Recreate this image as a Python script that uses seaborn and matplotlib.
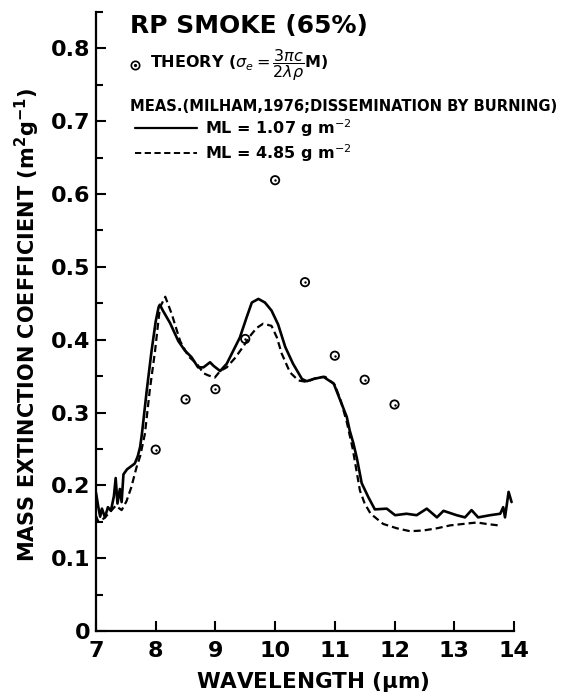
import matplotlib
matplotlib.use("Agg")
import matplotlib.pyplot as plt
import seaborn as sns
from matplotlib.lines import Line2D
from matplotlib.ticker import MultipleLocator

# Measured curve, ML = 1.07 g m^-2 (solid)
wl_thin = [7.00, 7.04, 7.07, 7.10, 7.15, 7.20, 7.25, 7.30, 7.33, 7.36, 7.40, 7.43,
           7.46, 7.52, 7.57, 7.65, 7.70, 7.74, 7.77, 7.85, 7.93, 8.00, 8.05, 8.07,
           8.12, 8.24, 8.38, 8.49, 8.60, 8.71, 8.80, 8.91, 8.97, 9.08, 9.19, 9.30,
           9.41, 9.52, 9.61, 9.72, 9.83, 9.94, 10.05, 10.17, 10.30, 10.45, 10.53,
           10.64, 10.81, 10.92, 10.98, 11.09, 11.20, 11.25, 11.31, 11.37, 11.45,
           11.56, 11.67, 11.87, 12.01, 12.20, 12.37, 12.54, 12.71, 12.82, 13.04,
           13.18, 13.29, 13.40, 13.60, 13.77, 13.82, 13.85, 13.91, 13.96]
mec_thin = [0.190, 0.170, 0.157, 0.168, 0.156, 0.170, 0.165, 0.185, 0.210, 0.175, 0.195, 0.177,
            0.215, 0.222, 0.225, 0.230, 0.240, 0.253, 0.271, 0.330, 0.384, 0.425, 0.445, 0.448,
            0.440, 0.423, 0.398, 0.385, 0.376, 0.362, 0.362, 0.369, 0.364, 0.357, 0.367, 0.385,
            0.403, 0.430, 0.451, 0.456, 0.451, 0.440, 0.421, 0.390, 0.367, 0.346, 0.343,
            0.346, 0.349, 0.343, 0.340, 0.317, 0.294, 0.275, 0.258, 0.237, 0.203,
            0.184, 0.167, 0.168, 0.159, 0.161, 0.159, 0.168, 0.156, 0.165, 0.159,
            0.156, 0.166, 0.156, 0.159, 0.161, 0.170, 0.156, 0.191, 0.177]

# Measured curve, ML = 4.85 g m^-2 (dashed)
wl_thick = [7.00, 7.04, 7.14, 7.23, 7.33, 7.43, 7.51, 7.59, 7.68, 7.74, 7.82, 7.90,
            7.99, 8.07, 8.16, 8.27, 8.41, 8.55, 8.69, 8.80, 8.88, 8.99, 9.08, 9.19,
            9.33, 9.47, 9.58, 9.69, 9.80, 9.94, 10.03, 10.11, 10.25, 10.39, 10.53,
            10.70, 10.84, 11.00, 11.10, 11.20, 11.30, 11.42, 11.50, 11.60, 11.81,
            12.04, 12.26, 12.48, 12.71, 12.93, 13.15, 13.38, 13.54, 13.74]
mec_thick = [0.158, 0.150, 0.155, 0.163, 0.172, 0.166, 0.178, 0.197, 0.225, 0.240, 0.271, 0.330,
             0.385, 0.444, 0.459, 0.435, 0.398, 0.377, 0.367, 0.354, 0.351, 0.348, 0.357, 0.362,
             0.375, 0.391, 0.405, 0.416, 0.422, 0.419, 0.403, 0.381, 0.355, 0.344, 0.342,
             0.348, 0.349, 0.338, 0.316, 0.287, 0.250, 0.193, 0.175, 0.161, 0.147,
             0.141, 0.137, 0.138, 0.141, 0.145, 0.147, 0.149, 0.147, 0.145]

# Theory points
wl_theory = [8.0, 8.5, 9.0, 9.5, 10.0, 10.5, 11.0, 11.5, 12.0]
mec_theory = [0.249, 0.318, 0.332, 0.401, 0.619, 0.479, 0.378, 0.345, 0.311]

x_ticks = [7, 8, 9, 10, 11, 12, 13, 14]
y_ticks = [0, 0.1, 0.2, 0.3, 0.4, 0.5, 0.6, 0.7, 0.8]
y_ticklabels = ["0", "0.1", "0.2", "0.3", "0.4", "0.5", "0.6", "0.7", "0.8"]

sns.set_style("ticks")
plt.rcParams['font.family'] = ['DejaVu Sans']
plt.rcParams['mathtext.fontset'] = 'dejavusans'
# plain black ink like the scanned figure
for key in ['text.color', 'axes.edgecolor', 'xtick.color', 'ytick.color',
            'axes.labelcolor']:
    plt.rcParams[key] = 'black'

fig = plt.figure(figsize=(5.74, 6.96), dpi=100)
ax = fig.add_axes([0.1672, 0.0934, 0.7282, 0.8894])

sns.lineplot(x=wl_thin, y=mec_thin, ax=ax, color='black', lw=1.9,
             estimator=None, sort=False)
sns.lineplot(x=wl_thick, y=mec_thick, ax=ax, color='black', lw=1.6,
             estimator=None, sort=False, linestyle=(0, (3.2, 1.8)))
sns.scatterplot(x=wl_theory, y=mec_theory, ax=ax, s=36, marker='o',
                facecolors='none', edgecolor='black', linewidth=1.3, zorder=5)
sns.scatterplot(x=wl_theory, y=mec_theory, ax=ax, s=3, color='black',
                linewidth=0, zorder=6)

ax.set_xlim(7, 14)
ax.set_ylim(0, 0.85)
ax.set_xticks(x_ticks)
ax.set_yticks(y_ticks)
ax.set_yticklabels(y_ticklabels)
ax.yaxis.set_minor_locator(MultipleLocator(0.05))
ax.tick_params(axis='both', which='major', direction='in', length=7, width=1.5,
               labelsize=16)
ax.tick_params(axis='y', which='major', pad=4)
ax.tick_params(axis='x', which='major', pad=7)
ax.tick_params(axis='y', which='minor', direction='in', length=5, width=1.5)
for lbl in ax.get_xticklabels() + ax.get_yticklabels():
    lbl.set_fontweight('bold')
sns.despine(ax=ax)
for sp in ['left', 'bottom']:
    ax.spines[sp].set_linewidth(1.6)
ax.set_xlabel('')
ax.set_ylabel('')

# Axis titles
fig.text(0.047, 0.533, r'MASS EXTINCTION COEFFICIENT (m$^\mathbf{2}$g$^\mathbf{-1}$)',
         rotation=90, ha='center', va='center', fontsize=15, fontweight='bold')
fig.text(0.545, 0.020, r'WAVELENGTH ($\mathbf{\mu}$m)', ha='center', va='center',
         fontsize=15.5, fontweight='bold')

# Legend block
ax.text(0.081, 0.977, 'RP SMOKE (65%)', transform=ax.transAxes, ha='left',
        va='center', fontsize=18, fontweight='bold')
ax.plot([0.0933], [0.914], transform=ax.transAxes, marker='o', ms=6, mfc='none',
        mec='black', mew=1.2, clip_on=False)
ax.plot([0.0933], [0.914], transform=ax.transAxes, marker='o', ms=1.3, color='black',
        clip_on=False)
ax.text(0.129, 0.914, r'THEORY ($\sigma_e = \dfrac{3\pi c}{2\lambda\rho}$M)',
        transform=ax.transAxes, ha='left', va='center', fontsize=11.5, fontweight='bold')
ax.text(0.081, 0.8465, 'MEAS.(MILHAM,1976;DISSEMINATION BY BURNING)',
        transform=ax.transAxes, ha='left', va='center', fontsize=10.6, fontweight='bold')
ax.add_line(Line2D([0.0933, 0.2416], [0.8126, 0.8126], transform=ax.transAxes,
                   color='black', lw=1.6))
ax.text(0.261, 0.8126, r'ML = 1.07 g m$^{-2}$', transform=ax.transAxes, ha='left',
        va='center', fontsize=11.5, fontweight='bold')
ax.add_line(Line2D([0.0933, 0.2416], [0.772, 0.772], transform=ax.transAxes,
                   color='black', lw=1.4, linestyle=(0, (3.2, 1.8))))
ax.text(0.261, 0.772, r'ML = 4.85 g m$^{-2}$', transform=ax.transAxes, ha='left',
        va='center', fontsize=11.5, fontweight='bold')

fig.savefig('out.png', dpi=100)
